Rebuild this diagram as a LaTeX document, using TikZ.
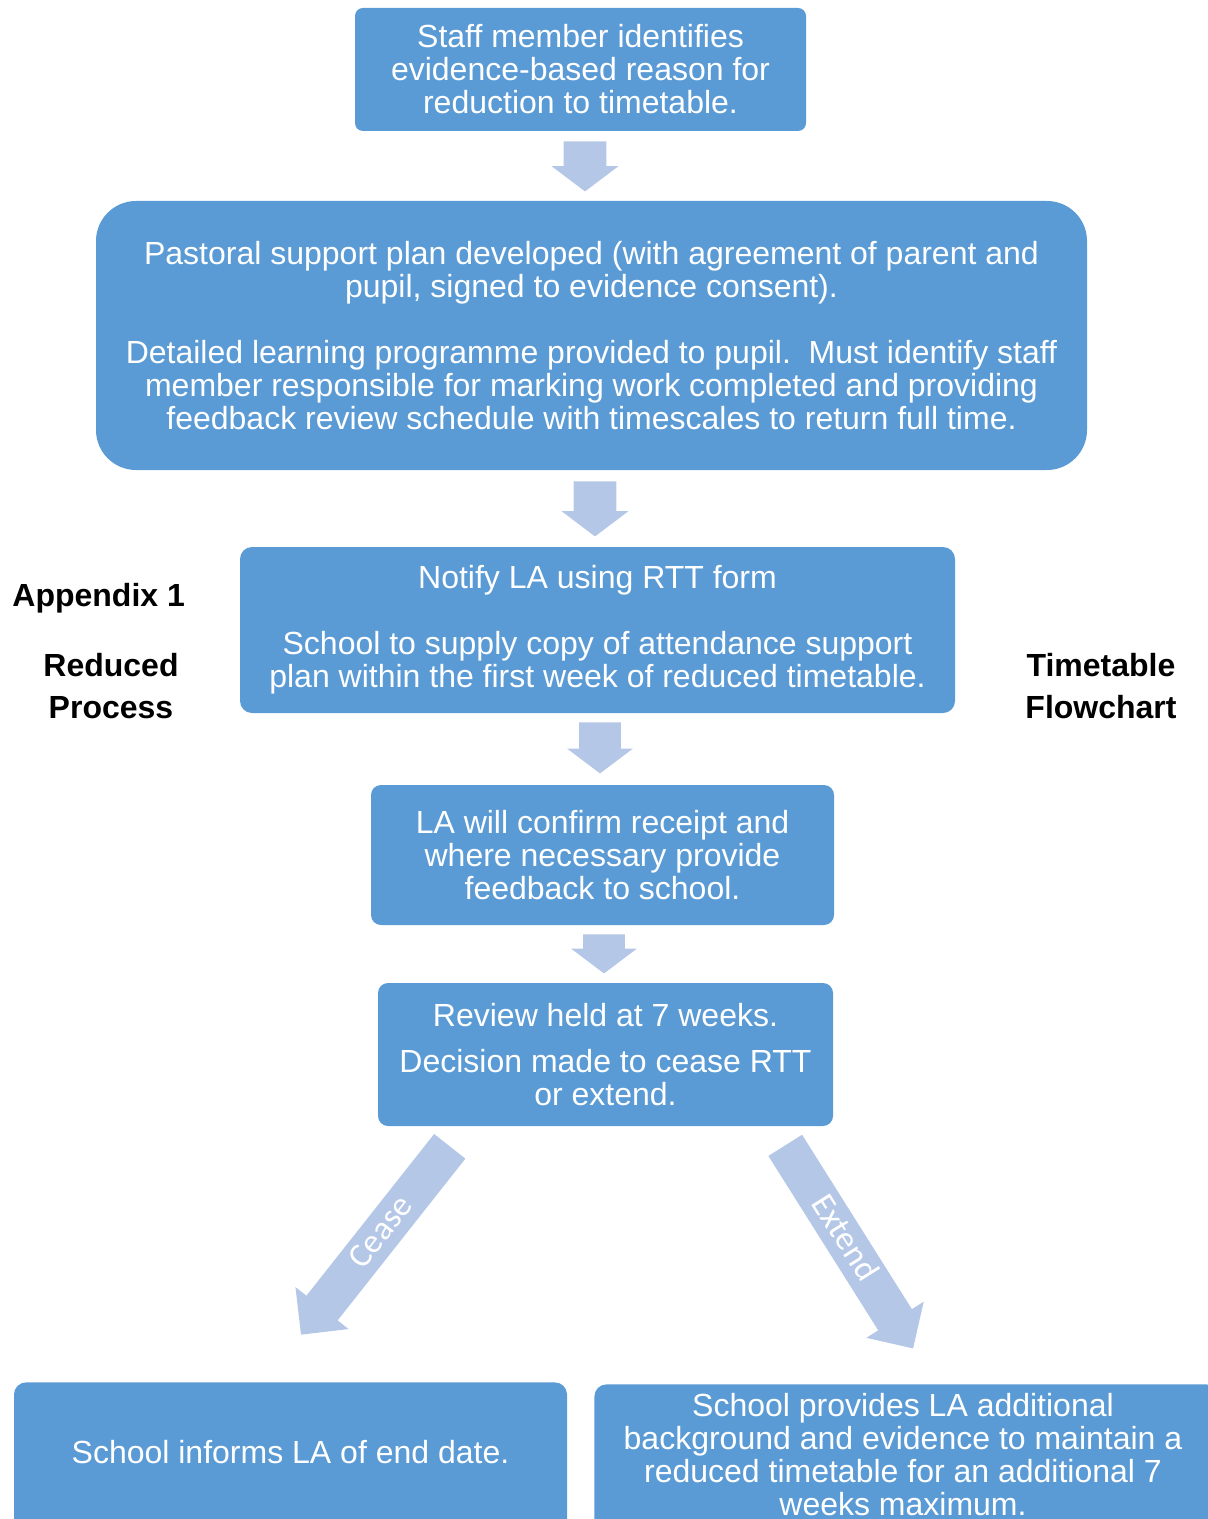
\documentclass[tikz,border=0pt]{standalone}
\usepackage{fontspec}
\setmainfont{Liberation Sans}
\newfontfamily\calfont{Carlito}
\usetikzlibrary{shapes.arrows}
\definecolor{boxblue}{HTML}{5B9BD5}
\definecolor{arrblue}{HTML}{B4C7E7}
\begin{document}
\begin{tikzpicture}[x=0.5pt,y=-0.5pt,
  box/.style={fill=boxblue, draw=none, text=white, align=center,
    font=\fontsize{16}{16.5}\selectfont, inner sep=0pt},
  downarrow/.style={single arrow, rotate=-90, fill=arrblue, draw=none,
    inner sep=0pt, minimum width=33pt, single arrow head extend=6pt,
    single arrow tip angle=106, anchor=tail},
  diagarrow/.style={single arrow, fill=arrblue, draw=none, text=white,
    font=\calfont\fontsize{17}{17}\selectfont, inner sep=0pt,
    minimum width=33.5pt, single arrow head extend=7pt, minimum height=120pt,
    single arrow tip angle=90, anchor=tail},
  label/.style={align=center, font=\bfseries\fontsize{16}{21}\selectfont, inner sep=0pt}]
\useasboundingbox (0,0) rectangle (1208,1519);
\clip (0,0) rectangle (1208,1519);

\node[box, rounded corners=4pt, minimum width=225.5pt, minimum height=61.5pt] (b1) at (580.5,69.5)
  {Staff member identifies\\evidence-based reason for\\reduction to timetable.};

\node[box, rounded corners=20pt, minimum width=495.5pt, minimum height=134.5pt] (b2) at (591.5,335.5)
  {Pastoral support plan developed (with agreement of parent and\\pupil, signed to evidence consent).\\[16.5pt]
   Detailed learning programme provided to pupil.\ \ Must identify staff\\member responsible for marking work completed and providing\\feedback review schedule with timescales to return full time.};

\node[box, rounded corners=6pt, minimum width=357.5pt, minimum height=83pt] (b3) at (597.5,630)
  {Notify LA using RTT form\\[16.5pt]School to supply copy of attendance support\\plan within the first week of reduced timetable.};

\node[box, rounded corners=5pt, minimum width=231.5pt, minimum height=70pt] (b4) at (602.5,855)
  {LA will confirm receipt and\\where necessary provide\\feedback to school.};

\node[box, rounded corners=5pt, minimum width=227.5pt, minimum height=71.5pt] (b5) at (605.5,1054.5)
  {Review held at 7 weeks.\\[6.5pt]Decision made to cease RTT\\or extend.};

\node[box, rounded corners=6pt, minimum width=276.5pt, minimum height=80pt, anchor=north] (b6) at (290.5,1382)
  {};
\node[text=white, font=\fontsize{16}{16.5}\selectfont, inner sep=0pt] (t6) at (290.5,1452) {School informs LA of end date.};

\node[box, rounded corners=6pt, minimum width=312pt, minimum height=80pt, anchor=north west] (b7) at (594,1384)
  {};
\node[text=white, align=center, font=\fontsize{16}{16.5}\selectfont, inner sep=0pt] (t7) at (903,1455)
  {School provides LA additional\\background and evidence to maintain a\\reduced timetable for an additional 7\\weeks maximum.};

% block arrows
\node[downarrow, minimum height=25pt] (a1) at (585,141) {\rule{0pt}{21pt}};
\node[downarrow, minimum height=27.5pt] (a2) at (595,481) {\rule{0pt}{21pt}};
\node[downarrow, minimum height=25.5pt] (a3) at (600,722) {\rule{0pt}{20pt}};
\node[downarrow, minimum height=19.5pt] (a4) at (604,934) {\rule{0pt}{20pt}};

\node[diagarrow, shape border rotate=180, rotate=51.7] (cease) at (450,1146) {\rule[-5.25pt]{0pt}{19.5pt}Cease};
\node[diagarrow, rotate=-57.8] (extend) at (785,1145) {\rule[-5.25pt]{0pt}{19.5pt}Extend};

% side labels
\node[label, anchor=west] (app) at (12,598) {Appendix 1};
\node[label] (rp) at (111,686) {Reduced\\Process};
\node[label] (tf) at (1101,686) {Timetable\\Flowchart};
\end{tikzpicture}
\end{document}
